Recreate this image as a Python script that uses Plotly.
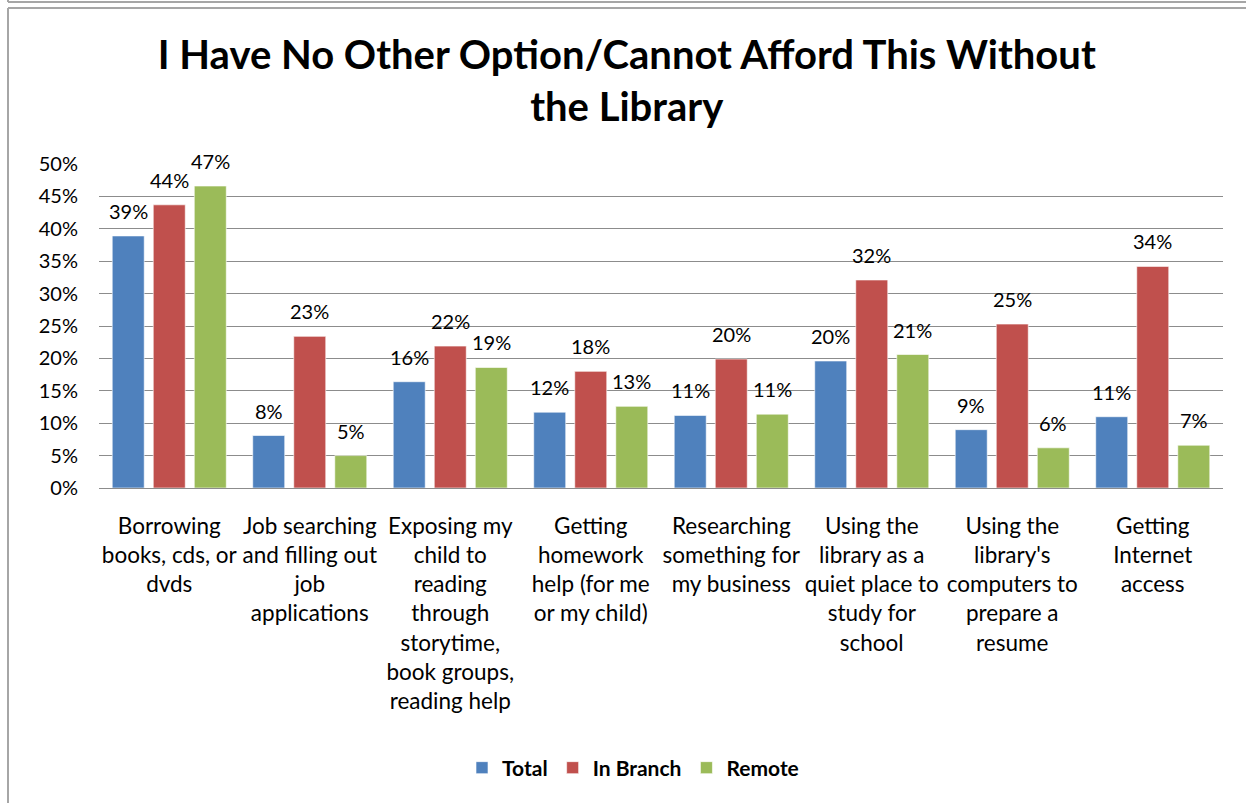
import plotly.graph_objects as go

categories = [
    "Borrowing<br>books, cds, or<br>dvds",
    "Job searching<br>and filling out<br>job<br>applications",
    "Exposing my<br>child to<br>reading<br>through<br>storytime,<br>book groups,<br>reading help",
    "Getting<br>homework<br>help (for me<br>or my child)",
    "Researching<br>something for<br>my business",
    "Using the<br>library as a<br>quiet place to<br>study for<br>school",
    "Using the<br>library's<br>computers to<br>prepare a<br>resume",
    "Getting<br>Internet<br>access",
]
total = [0.389, 0.081, 0.164, 0.117, 0.112, 0.196, 0.090, 0.110]
in_branch = [0.437, 0.234, 0.219, 0.180, 0.199, 0.321, 0.253, 0.342]
remote = [0.466, 0.050, 0.186, 0.126, 0.114, 0.206, 0.062, 0.066]
series_names = ["Total", "In Branch", "Remote"]
colors = ["#4F81BD", "#C0504D", "#9BBB59"]
y_ticks = [0, 0.05, 0.10, 0.15, 0.20, 0.25, 0.30, 0.35, 0.40, 0.45, 0.50]

W, H = 1246, 803
ML, MR, MT, MB = 99, 23, 164, 315
FONT = "Lato"
BARGAP = 0.124
GROUPGAP = 0.22

fig = go.Figure()
series_vals = [total, in_branch, remote]
for name, vals, col in zip(series_names, series_vals, colors):
    fig.add_trace(go.Bar(
        x=categories, y=vals, name=name,
        marker=dict(color=col, line=dict(color="rgba(255,255,255,0.6)", width=1)),
        hoverinfo="x+y",
    ))

# value labels above each bar, offset by the bar slot width within its group
plot_w = W - ML - MR
slot_px = plot_w / len(categories) * (1 - BARGAP) / len(series_names)
annotations = []
for i, vals in enumerate(series_vals):
    for cat, v in zip(categories, vals):
        annotations.append(dict(
            x=cat, y=v, xref="x", yref="y",
            text=f"{round(v * 100):d}%", showarrow=False,
            xanchor="center", yanchor="bottom",
            xshift=(i - 1) * slot_px, yshift=11,
            font=dict(family=FONT, size=20, color="#000000"),
        ))

def px2x(px):
    return (px - ML) / plot_w

def px2y(py):
    return (H - MB - py) / (H - MT - MB)

line_style = dict(color="#A6A6A6", width=2)
shapes = [
    dict(type="line", xref="paper", yref="paper", x0=px2x(8), x1=px2x(1246), y0=px2y(8), y1=px2y(8), line=line_style),
    dict(type="line", xref="paper", yref="paper", x0=px2x(8), x1=px2x(8), y0=px2y(8), y1=px2y(803), line=line_style),
    dict(type="line", xref="paper", yref="paper", x0=px2x(8), x1=px2x(1246), y0=px2y(2), y1=px2y(2), line=line_style),
    dict(type="line", xref="paper", yref="paper", x0=px2x(8), x1=px2x(8), y0=px2y(0), y1=px2y(2), line=line_style),
]

fig.update_layout(
    width=W, height=H,
    margin=dict(l=ML, r=MR, t=MT, b=MB, autoexpand=False),
    paper_bgcolor="white", plot_bgcolor="white",
    barmode="group", bargap=BARGAP, bargroupgap=GROUPGAP,
    title=dict(
        text="<b>I Have No Other Option/Cannot Afford This Without<br>the Library</b>",
        x=0.503, xanchor="center", xref="container",
        y=1 - 69 / H, yanchor="middle", yref="container",
        font=dict(family=FONT, size=40, color="#000000"),
    ),
    font=dict(family=FONT, color="#000000"),
    xaxis=dict(
        tickfont=dict(family=FONT, size=22.5, color="#000000"),
        tickangle=0, showline=False, ticks="", showgrid=False,
        ticklabelstandoff=22,
    ),
    yaxis=dict(
        range=[0, 0.5], tickvals=y_ticks, tickformat=".0%",
        tickfont=dict(family=FONT, size=20, color="#000000"),
        showgrid=True, gridcolor="#8C8C8C", gridwidth=1,
        zeroline=True, zerolinecolor="#8C8C8C", zerolinewidth=1,
        showline=False, ticks="", ticklabelstandoff=20,
    ),
    legend=dict(
        orientation="h", x=px2x(633), xanchor="center", y=px2y(768), yanchor="middle",
        font=dict(family=FONT, size=21, color="#000000", weight="bold"),
        itemwidth=30, traceorder="normal",
    ),
    annotations=annotations,
    shapes=shapes,
    showlegend=True,
)

fig.write_html("out.html")
